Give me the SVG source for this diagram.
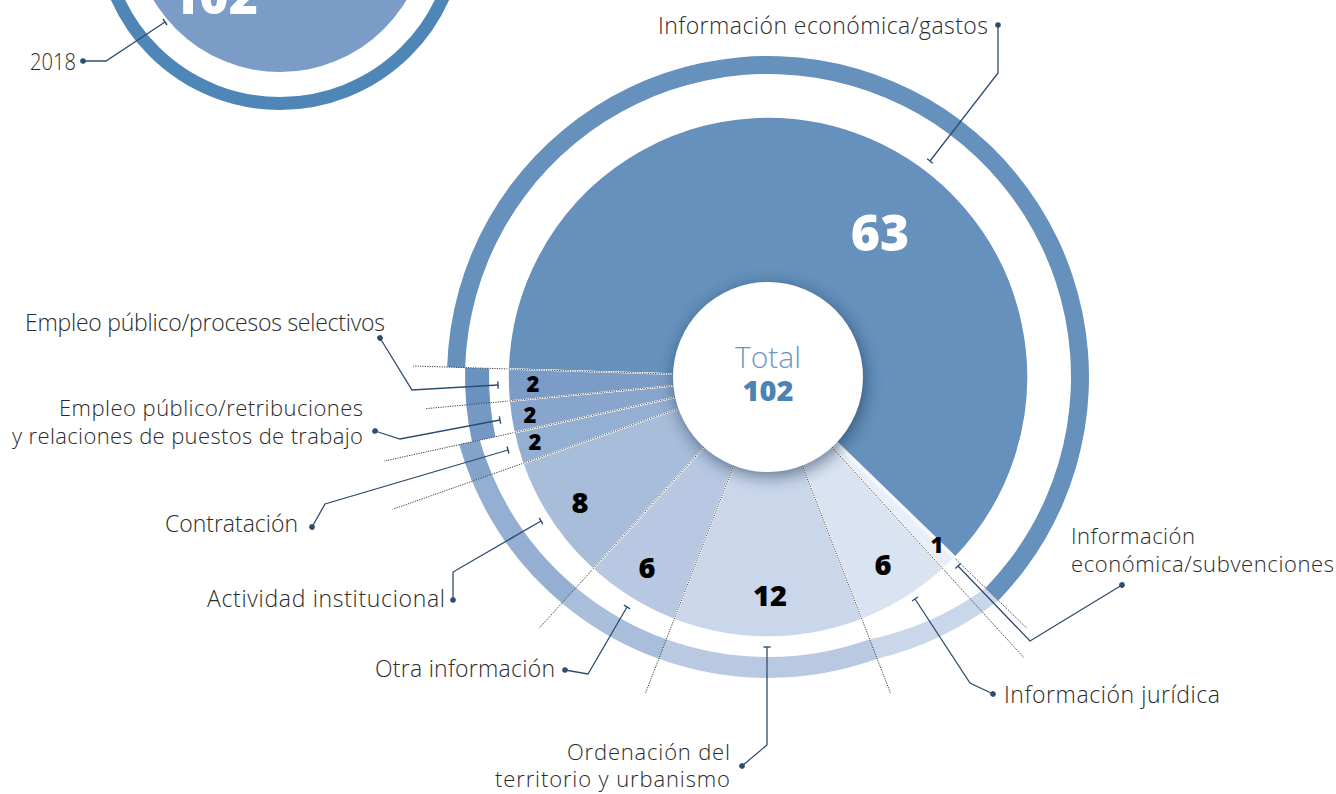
<svg xmlns="http://www.w3.org/2000/svg" width="1336" height="794" viewBox="0 0 1336 794">
<style>
.lbl{font-family:"Open Sans","Liberation Sans",sans-serif;font-weight:300;font-size:23px;fill:#2b2b2b}
.sm{font-size:22px}
.val{font-family:"Open Sans","Liberation Sans",sans-serif;font-weight:800;fill:#000;text-anchor:middle}
.sl{stroke:#ffffff;stroke-width:1.6;stroke-linejoin:round}
.dot{stroke:#3a3a3a;stroke-width:1;stroke-dasharray:1.2 1.2;fill:none}
.lead{stroke:#2e4d6e;stroke-width:1.3;fill:none;marker-start:url(#dot);marker-end:url(#tick)}
.end{text-anchor:end}
</style>
<defs>
<marker id="tick" viewBox="-5 -5 10 10" refX="0" refY="0" markerWidth="10" markerHeight="10" markerUnits="userSpaceOnUse" orient="auto">
<path d="M0,-3.6 V3.6" stroke="#2e4d6e" stroke-width="1.4"/>
</marker>
<marker id="dot" viewBox="-4 -4 8 8" refX="0" refY="0" markerWidth="8" markerHeight="8" markerUnits="userSpaceOnUse" orient="auto">
<circle r="2.8" fill="#2e4d6e"/>
</marker>
<filter id="sh" x="-40%" y="-40%" width="180%" height="180%">
<feGaussianBlur stdDeviation="8"/>
</filter>
</defs>

<g id="chart-2018">
<circle cx="280" cy="-75" r="147" fill="#7a9cc6"/>
<circle cx="280" cy="-75" r="178.5" fill="none" stroke="#4f86b8" stroke-width="13"/>
<text x="214" y="14" class="val" font-size="50" style="fill:#fff">102</text>
<text x="76" y="70" class="lbl end" textLength="46" lengthAdjust="spacingAndGlyphs">2018</text>
</g>

<g id="ring">
<path id="ring-gastos" d="M447.15,367.08 A321,321 0 1 1 998.42,600.51 L985.49,587.98 A303,303 0 1 0 465.15,367.64 Z" fill="#6591bc"/>
<path id="ring-subv-juridica" d="M998.42,600.51 A321,321 0 0 1 877.21,658.84 L869.62,639.25 A300,300 0 0 0 985.49,587.98 Z" fill="#cad7ea"/>
<path id="ring-ordenacion" d="M877.21,658.84 A321,321 0 0 1 658.79,658.84 L666.38,639.25 A300,300 0 0 0 869.62,639.25 Z" fill="#b9c9e2"/>
<path id="ring-otra" d="M658.79,658.84 A321,321 0 0 1 561.99,603.17 L576.14,587.63 A300,300 0 0 0 666.38,639.25 Z" fill="#a9bedb"/>
<path id="ring-actividad" d="M561.99,603.17 A321,321 0 0 1 472.06,481.31 L491.90,474.31 A300,300 0 0 0 576.14,587.63 Z" fill="#94afd2"/>
<path id="ring-contratacion" d="M472.06,481.31 A321,321 0 0 1 459.18,444.62 L479.74,440.12 A300,300 0 0 0 491.90,474.31 Z" fill="#83a3cb"/>
<path id="ring-retribuciones" d="M472.0,441.82 A303,303 0 0 1 466.29,404.94 L490.19,402.72 A279,279 0 0 0 495.44,436.68 Z" fill="#7399c4"/>
<path id="ring-procesos" d="M466.29,404.94 A303,303 0 0 1 465.15,367.64 L489.13,368.38 A279,279 0 0 0 490.19,402.72 Z" fill="#6892bf"/>
</g>

<g id="separators">
<path class="dot" d="M673.05,374.07 L413.2,366.0 M673.4,385.76 L425.5,408.7 M675.2,397.3 L384.1,461.1 M678.4,408.6 L392.6,509.3 M704.0,447.2 L539.0,628.3 M733.7,465.6 L645.5,693.1 M802.3,465.6 L890.5,693.1 M832.0,447.2 L1024.0,657.8 M954.62,558.03 L1027.1,628.4"/>
</g>

<g id="slice-gastos">
<path class="sl" d="M768,377 L508.12,368.97 A260,260 0 1 1 954.62,558.03 Z" fill="#6591bc"/>
<text x="880" y="251" class="val" font-size="50" style="fill:#fff">63</text>
<text x="988" y="34" class="lbl end" textLength="330" lengthAdjust="spacing">Información económica/gastos</text>
</g>
<g id="slice-subvenciones">
<path class="sl" d="M768,377 L954.62,558.03 A260,260 0 0 1 943.16,569.14 Z" fill="#e9eef7"/>
<path d="M768,377 L954.62,558.03" stroke="#f4f7fb" stroke-width="4" fill="none"/>
<text x="937" y="553" class="val" font-size="22">1</text>
<text x="1071" y="544" class="lbl sm" textLength="124" lengthAdjust="spacing">Información</text>
<text x="1071" y="572" class="lbl sm" textLength="263" lengthAdjust="spacing">económica/subvenciones</text>
</g>
<g id="slice-juridica">
<path class="sl" d="M768,377 L943.16,569.14 A260,260 0 0 1 861.95,619.43 Z" fill="#dae3f1"/>
<text x="883" y="575" class="val" font-size="29">6</text>
<text x="1004" y="703" class="lbl" textLength="216" lengthAdjust="spacing">Información jurídica</text>
</g>
<g id="slice-ordenacion">
<path class="sl" d="M768,377 L861.95,619.43 A260,260 0 0 1 674.05,619.43 Z" fill="#cad6e9"/>
<text x="770" y="606" class="val" font-size="29">12</text>
<text x="730" y="760" class="lbl sm end" textLength="163" lengthAdjust="spacing">Ordenación del</text>
<text x="730" y="787" class="lbl sm end" textLength="235" lengthAdjust="spacing">territorio y urbanismo</text>
</g>
<g id="slice-otra">
<path class="sl" d="M768,377 L674.05,619.43 A260,260 0 0 1 592.91,569.21 Z" fill="#b8c8e2"/>
<text x="647" y="578" class="val" font-size="29">6</text>
<text x="555" y="677" class="lbl end" textLength="180" lengthAdjust="spacing">Otra información</text>
</g>
<g id="slice-actividad">
<path class="sl" d="M768,377 L592.91,569.21 A260,260 0 0 1 522.78,463.42 Z" fill="#a8bdda"/>
<text x="580" y="513" class="val" font-size="29">8</text>
<text x="445" y="607" class="lbl end" textLength="238" lengthAdjust="spacing">Actividad institucional</text>
</g>
<g id="slice-contratacion">
<path class="sl" d="M768,377 L522.78,463.42 A260,260 0 0 1 514.02,432.61 Z" fill="#93afd2"/>
<text x="535" y="450" class="val" font-size="22">2</text>
<text x="298" y="532" class="lbl end" textLength="133" lengthAdjust="spacing">Contratación</text>
</g>
<g id="slice-retribuciones">
<path class="sl" d="M768,377 L514.02,432.61 A260,260 0 0 1 509.11,400.97 Z" fill="#88a6cd"/>
<text x="530" y="423" class="val" font-size="22">2</text>
<text x="363" y="416" class="lbl sm end" textLength="304" lengthAdjust="spacing">Empleo público/retribuciones</text>
<text x="363" y="444" class="lbl sm end" textLength="351" lengthAdjust="spacing">y relaciones de puestos de trabajo</text>
</g>
<g id="slice-procesos">
<path class="sl" d="M768,377 L509.11,400.97 A260,260 0 0 1 508.12,368.97 Z" fill="#7b9cc6"/>
<text x="533" y="392" class="val" font-size="22">2</text>
<text x="385" y="331" class="lbl end" textLength="360" lengthAdjust="spacing">Empleo público/procesos selectivos</text>
</g>

<g id="inner-dots">
<path class="dot" d="M673.05,374.07 L508.12,368.97 M673.4,385.76 L509.11,400.97 M675.2,397.3 L514.02,432.61 M678.4,408.6 L522.78,463.42 M704.0,447.2 L592.91,569.21 M733.7,465.6 L674.05,619.43 M802.3,465.6 L861.95,619.43 M832.0,447.2 L943.16,569.14"/>
</g>

<g id="center">
<circle cx="770" cy="381" r="96" fill="#17324f" opacity="0.55" filter="url(#sh)"/>
<circle cx="768" cy="377" r="95" fill="#ffffff"/>
<text x="768" y="368" text-anchor="middle" font-family="'Open Sans','Liberation Sans',sans-serif" font-weight="300" font-size="30" fill="#6b97c4">Total</text>
<text x="768" y="401" text-anchor="middle" font-family="'Open Sans','Liberation Sans',sans-serif" font-weight="800" font-size="29" fill="#4d82b7">102</text>
</g>

<g id="connectors">
<polyline class="lead" points="83,61 106,61 165,22"/>
<polyline class="lead" points="998,25 998,73 930,161"/>
<polyline class="lead" points="380,338 412,390 498,385"/>
<polyline class="lead" points="375,431 400,439 500,420"/>
<polyline class="lead" points="312,527 325,504 508,450"/>
<polyline class="lead" points="453,600 453,572 541,521"/>
<polyline class="lead" points="565,670 588,674 627,607"/>
<polyline class="lead" points="742,766 767,745 767,647"/>
<polyline class="lead" points="993,694 970,683 915,599"/>
<polyline class="lead" points="1122,585 1030,641 958,566"/>
</g>
</svg>
